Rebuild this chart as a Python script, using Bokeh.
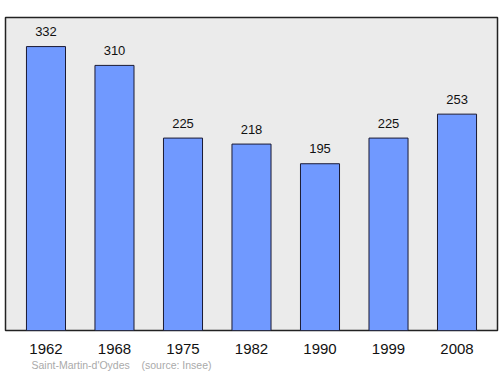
from bokeh.plotting import figure
from bokeh.models import FixedTicker, Title, Range1d
from bokeh.core.properties import value
from bokeh.embed import file_html
from bokeh.resources import INLINE

years = ["1962", "1968", "1975", "1982", "1990", "1999", "2008"]
population = [332, 310, 225, 218, 195, 225, 253]
footer = "Saint-Martin-d'Oydes\u00a0\u00a0\u00a0\u00a0(source: Insee)"

xs = list(range(len(years)))

p = figure(width=500, height=374, output_backend="svg", toolbar_location=None,
           x_range=Range1d(-0.591, 6.591), y_range=Range1d(0, 366),
           min_border_left=5, min_border_right=3, min_border_top=17, min_border_bottom=44)
p.background_fill_color = "#ebebeb"
p.border_fill_color = "white"
p.outline_line_color = "#222222"
p.outline_line_width = 1.5
p.xgrid.visible = False
p.ygrid.visible = False
p.yaxis.visible = False

p.vbar(x=xs, top=population, width=0.57, fill_color="#7099ff",
       line_color="#1a1a33", line_width=1)
p.text(x=xs, y=population, text=[str(v) for v in population],
       text_align="center", text_baseline="middle", y_offset=-15,
       text_font=value("Liberation Sans"), text_font_size="13px", text_color="#111111")

ax = p.xaxis[0]
ax.ticker = FixedTicker(ticks=xs)
ax.major_label_overrides = {i: y for i, y in enumerate(years)}
ax.major_tick_line_color = None
ax.minor_tick_line_color = None
ax.axis_line_color = None
ax.major_label_text_font = "Liberation Sans"
ax.major_label_text_font_size = "15px"
ax.major_label_text_color = "#111111"
ax.major_label_standoff = 7

p.add_layout(Title(text=footer, align="left", offset=26, text_font="Liberation Sans",
                   text_font_size="10.5px", text_color="#aaaaaa",
                   text_font_style="normal", standoff=1), "below")

open("out.html", "w").write(file_html(p, INLINE))
